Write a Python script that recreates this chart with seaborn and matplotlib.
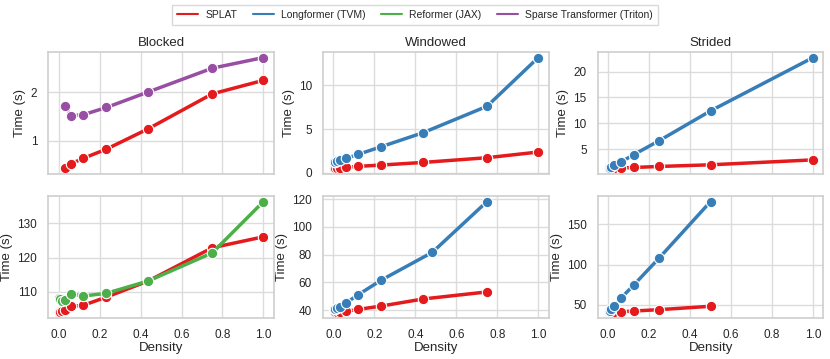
import matplotlib
matplotlib.use("Agg")
import matplotlib.pyplot as plt
import pandas as pd
import seaborn as sns

methods = ["SPLAT", "Longformer (TVM)", "Reformer (JAX)", "Sparse Transformer (Triton)"]
colors = ["#e41a1c", "#377eb8", "#4daf4a", "#984ea3"]
patterns = ["Blocked", "Windowed", "Strided"]

# ---- top row ----
blocked_top_density = [0.031, 0.062, 0.121, 0.234, 0.438, 0.75, 1.0]
blocked_top_splat = [0.43, 0.53, 0.64, 0.83, 1.25, 1.97, 2.25]
blocked_top_sparse = [1.72, 1.52, 1.54, 1.69, 2.01, 2.50, 2.72]

windowed_top_density = [0.004, 0.008, 0.016, 0.031, 0.062, 0.121, 0.234, 0.438, 0.75, 1.0]
windowed_top_splat = [0.49, 0.51, 0.55, 0.60, 0.65, 0.73, 0.88, 1.18, 1.72, 2.37]
windowed_top_longformer = [1.20, 1.26, 1.34, 1.45, 1.64, 2.10, 2.98, 4.58, 7.60, 13.17]

strided_top_density = [0.004, 0.008, 0.016, 0.031, 0.0625, 0.125, 0.25, 0.5, 1.0]
strided_top_splat = [1.27, 1.28, 1.30, 1.33, 1.36, 1.46, 1.66, 1.98, 2.93]
strided_top_longformer = [1.27, 1.38, 1.55, 1.87, 2.52, 3.94, 6.66, 12.4, 22.7]

# ---- bottom row ----
blocked_bot_density = [0.004, 0.008, 0.016, 0.031, 0.062, 0.121, 0.234, 0.438, 0.75, 1.0]
blocked_bot_splat = [104.0, 104.1, 104.3, 104.6, 105.8, 106.1, 108.5, 113.2, 122.9, 126.1]
blocked_bot_reformer = [108.3, 108.0, 107.4, 107.5, 109.4, 108.8, 109.6, 113.2, 121.4, 136.4]

windowed_bot_density_splat = [0.004, 0.008, 0.016, 0.031, 0.062, 0.121, 0.234, 0.438, 0.75]
windowed_bot_splat = [38.4, 38.5, 38.7, 38.9, 39.2, 40.6, 43.0, 48.1, 53.2]
windowed_bot_density_long = [0.004, 0.008, 0.016, 0.031, 0.062, 0.121, 0.234, 0.483, 0.75]
windowed_bot_longformer = [41.0, 41.2, 41.7, 42.6, 45.3, 51.1, 61.7, 81.7, 118.3]

strided_bot_density = [0.004, 0.008, 0.016, 0.031, 0.0625, 0.125, 0.25, 0.5]
strided_bot_splat = [40.2, 40.4, 40.6, 40.8, 41.0, 42.0, 43.7, 47.9]
strided_bot_longformer = [41.5, 42.4, 44.5, 48.7, 58.0, 74.4, 108.4, 178.6]

panels = [
    (0, 0, [(blocked_top_density, blocked_top_splat, methods[0]),
            (blocked_top_density, blocked_top_sparse, methods[3])]),
    (0, 1, [(windowed_top_density, windowed_top_splat, methods[0]),
            (windowed_top_density, windowed_top_longformer, methods[1])]),
    (0, 2, [(strided_top_density, strided_top_splat, methods[0]),
            (strided_top_density, strided_top_longformer, methods[1])]),
    (1, 0, [(blocked_bot_density, blocked_bot_splat, methods[0]),
            (blocked_bot_density, blocked_bot_reformer, methods[2])]),
    (1, 1, [(windowed_bot_density_splat, windowed_bot_splat, methods[0]),
            (windowed_bot_density_long, windowed_bot_longformer, methods[1])]),
    (1, 2, [(strided_bot_density, strided_bot_splat, methods[0]),
            (strided_bot_density, strided_bot_longformer, methods[1])]),
]

yticks = {
    (0, 0): [1, 2], (0, 1): [0, 5, 10], (0, 2): [5, 10, 15, 20],
    (1, 0): [110, 120, 130], (1, 1): [40, 60, 80, 100, 120], (1, 2): [50, 100, 150],
}

sns.set_theme(style="whitegrid")
plt.rcParams["font.family"] = ["Liberation Sans", "DejaVu Sans"]
plt.rcParams["axes.edgecolor"] = "#d0d0d0"
plt.rcParams["grid.color"] = "#dcdcdc"

palette = dict(zip(methods, colors))

fig, axes = plt.subplots(2, 3, figsize=(8.3, 3.59), dpi=100, sharex=True)
fig.subplots_adjust(left=48.3 / 830, right=823.3 / 830, top=1 - 52 / 359,
                    bottom=1 - 318 / 359, wspace=0.219, hspace=0.18)

for r, c, series in panels:
    ax = axes[r, c]
    rows = []
    for xs, ys, m in series:
        for x, y in zip(xs, ys):
            rows.append({"Density": x, "Time (s)": y, "Method": m})
    df = pd.DataFrame(rows)
    sns.lineplot(data=df, x="Density", y="Time (s)", hue="Method", palette=palette,
                 marker="o", markersize=7.5, markeredgecolor="white", markeredgewidth=0.8,
                 linewidth=2.5, ax=ax, legend=False, sort=True, errorbar=None)
    ax.set_yticks(yticks[(r, c)])
    ax.set_xlim(-0.05, 1.05)
    ax.set_xticks([0.0, 0.2, 0.4, 0.6, 0.8, 1.0])
    ax.tick_params(labelsize=8.5, pad=2, colors="#262626")
    ax.set_ylabel("Time (s)", fontsize=9.5, labelpad=3, color="#262626")
    if r == 0:
        ax.set_title(patterns[c], fontsize=9.5, pad=4, color="#262626")
        ax.set_xlabel("")
    else:
        ax.set_xlabel("Density", fontsize=9.5, labelpad=1, color="#262626")

handles = [plt.Line2D([], [], color=col, linewidth=1.5) for col in colors]
fig.legend(handles, methods, loc="center", bbox_to_anchor=(0.5, 1 - 15 / 359), ncol=4,
           fontsize=7.5, frameon=True, handlelength=2.0, columnspacing=1.5,
           handletextpad=0.7, edgecolor="#d0d0d0", fancybox=False, borderpad=0.45)

fig.savefig("out.png", dpi=100)
